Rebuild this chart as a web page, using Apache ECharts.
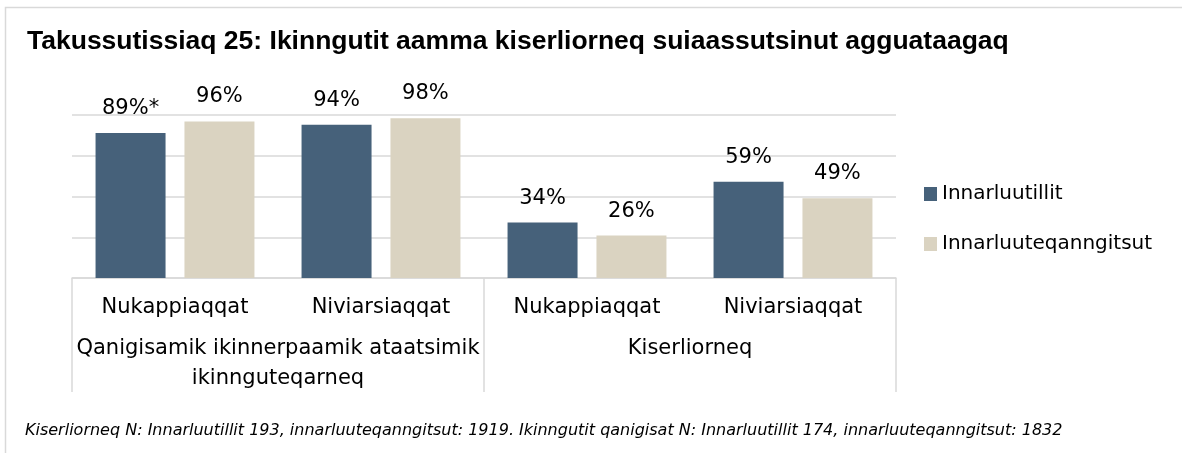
<!DOCTYPE html>
<html>
<head>
<meta charset="utf-8">
<script src="https://cdn.jsdelivr.net/npm/echarts@6/dist/echarts.min.js"></script>
<style>
  html, body { margin: 0; padding: 0; background: #fff; }
  #chart { width: 1182px; height: 453px; }
</style>
</head>
<body>
<div id="chart"></div>
<script>
//data
var categories = ['Nukappiaqqat', 'Niviarsiaqqat', 'Nukappiaqqat', 'Niviarsiaqqat'];
var groups = ['Qanigisamik ikinnerpaamik ataatsimik\nikinnguteqarneq', 'Kiserliorneq'];
var innarluutillit = [89, 94, 34, 59];
var innarluuteqanngitsut = [96, 98, 26, 49];
var notes = ['*', '', '', '']; //asterisk on first value only

var titleText = 'Takussutissiaq 25: Ikinngutit aamma kiserliorneq suiaassutsinut agguataagaq';
var footText = 'Kiserliorneq N: Innarluutillit 193, innarluuteqanngitsut: 1919. Ikinngutit qanigisat N: Innarluutillit 174, innarluuteqanngitsut: 1832';

var blue = '#46617a';
var beige = '#dad3c1';
var lineGrey = '#d9d9d9';
var font = 'DejaVu Sans';

var myChart = echarts.init(document.getElementById('chart'));

function barLabel(notesArr) {
    return {
        show: true,
        position: 'top',
        distance: 14,
        color: '#000',
        fontSize: 21,
        fontFamily: font,
        formatter: function (p) {
            return p.value + '%' + (notesArr ? notesArr[p.dataIndex] : '');
        }
    };
}

option = {
    animation: false,
    backgroundColor: '#fff',
    title: {
        text: titleText,
        left: 27,
        top: 28,
        padding: 0,
        textStyle: {
            fontFamily: 'Liberation Sans',
            fontWeight: 'bold',
            fontSize: 26.5,
            color: '#000'
        }
    },
    legend: {
        orient: 'vertical',
        left: 924,
        top: 184,
        padding: 0,
        itemWidth: 13,
        itemHeight: 14,
        itemGap: 30,
        icon: 'rect',
        textStyle: {
            fontFamily: font,
            fontSize: 20,
            color: '#000'
        },
        data: ['Innarluutillit', 'Innarluuteqanngitsut']
    },
    grid: {
        left: 72,
        right: 286,
        top: 115,
        bottom: 175
    },
    xAxis: [
        {
            type: 'category',
            data: categories,
            position: 'bottom',
            offset: 0,
            axisLine: { show: true, lineStyle: { color: lineGrey, width: 1.5 } },
            axisTick: { show: false },
            axisLabel: {
                interval: 0,
                margin: 19,
                fontFamily: font,
                fontSize: 21,
                color: '#000'
            }
        },
        {
            //group labels under the categories, ticks make the boxes
            type: 'category',
            data: groups,
            position: 'bottom',
            offset: 0,
            axisLine: { show: false },
            axisTick: {
                show: true,
                length: 114,
                interval: 0,
                lineStyle: { color: lineGrey, width: 1.5 }
            },
            axisLabel: {
                interval: 0,
                margin: 56,
                fontFamily: font,
                fontSize: 21,
                lineHeight: 30,
                color: '#000'
            }
        }
    ],
    yAxis: {
        type: 'value',
        min: 0,
        max: 100,
        interval: 25,
        axisLine: { show: false },
        axisTick: { show: false },
        axisLabel: { show: false },
        splitLine: { show: true, lineStyle: { color: lineGrey, width: 1.5 } }
    },
    series: [
        {
            name: 'Innarluutillit',
            type: 'bar',
            xAxisIndex: 0,
            color: blue,
            barWidth: 70,
            barGap: '27%',
            label: barLabel(notes),
            data: innarluutillit
        },
        {
            name: 'Innarluuteqanngitsut',
            type: 'bar',
            xAxisIndex: 0,
            color: beige,
            barWidth: 70,
            barGap: '27%',
            label: barLabel(null),
            data: innarluuteqanngitsut
        }
    ],
    graphic: [
        {
            //outer frame
            type: 'rect',
            silent: true,
            shape: { x: 5.5, y: 7.5, width: 1300, height: 600 },
            style: { fill: 'none', stroke: lineGrey, lineWidth: 1.5 }
        },
        {
            type: 'text',
            left: 25,
            top: 423,
            style: {
                text: footText,
                fontFamily: font,
                fontStyle: 'italic',
                fontSize: 16,
                fill: '#000'
            }
        }
    ]
};

myChart.setOption(option);
</script>
</body>
</html>
